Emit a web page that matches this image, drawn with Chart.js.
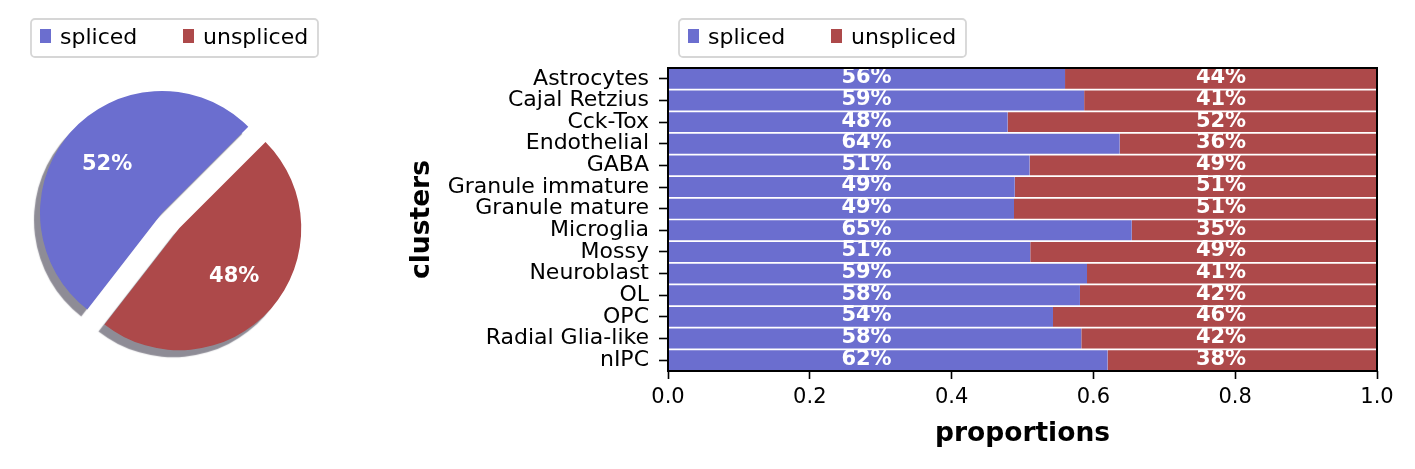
<!DOCTYPE html>
<html>
<head>
<meta charset="utf-8">
<script src="https://cdn.jsdelivr.net/npm/chart.js@4.4.1/dist/chart.umd.min.js"></script>
<style>
  body { margin: 0; background: #fff; }
  #wrap { position: relative; width: 1415px; height: 469px; }
  #pieBox { position: absolute; left: 0; top: 0; width: 400px; height: 469px; }
  #barBox { position: absolute; left: 400px; top: 0; width: 1015px; height: 469px; }
</style>
</head>
<body>
<div id="wrap">
  <div id="pieBox"><canvas id="pieChart"></canvas></div>
  <div id="barBox"><canvas id="barChart"></canvas></div>
</div>
<script>
var layers = ["spliced", "unspliced"];
var layerColors = ["#6b6ecf", "#ad494a"];
var pieValues = [52, 48];

var clusters = ["Astrocytes", "Cajal Retzius", "Cck-Tox", "Endothelial", "GABA",
  "Granule immature", "Granule mature", "Microglia", "Mossy", "Neuroblast",
  "OL", "OPC", "Radial Glia-like", "nIPC"];
var splicedValues = [0.560, 0.587, 0.479, 0.637, 0.510, 0.489, 0.488, 0.654, 0.511, 0.591, 0.581, 0.543, 0.583, 0.620];
var unsplicedValues = [0.440, 0.413, 0.521, 0.363, 0.490, 0.511, 0.512, 0.346, 0.489, 0.409, 0.419, 0.457, 0.417, 0.380];
var xTicks = [0, 0.2, 0.4, 0.6, 0.8, 1.0];

Chart.defaults.font.family = '"DejaVu Sans", sans-serif';
Chart.defaults.color = '#000';

// framed legend like matplotlib's, drawn in the empty space above each plot
var boxLegend = {
  id: 'boxLegend',
  afterDraw: function (chart, args, opts) {
    var ctx = chart.ctx;
    ctx.save();
    ctx.beginPath();
    ctx.roundRect(opts.x, opts.y, 287, 38, 4);
    ctx.fillStyle = 'rgba(255,255,255,0.8)';
    ctx.fill();
    ctx.lineWidth = 1.8;
    ctx.strokeStyle = '#d6d6d6';
    ctx.stroke();
    ctx.font = '22px "DejaVu Sans"';
    ctx.textBaseline = 'alphabetic';
    ctx.textAlign = 'left';
    for (var i = 0; i < layers.length; i++) {
      var ix = opts.x + 9 + i * 143;
      ctx.fillStyle = layerColors[i];
      ctx.fillRect(ix, opts.y + 10, 11, 14);
      ctx.fillStyle = '#000';
      ctx.fillText(layers[i], ix + 20, opts.y + 25);
    }
    ctx.restore();
  }
};

// exploded wedge, drop shadow and percent labels for the pie
var explode = [0, 23];
var pieExtras = {
  id: 'pieExtras',
  afterDatasetsUpdate: function (chart) {
    var arcs = chart.getDatasetMeta(0).data;
    arcs.forEach(function (arc, i) {
      var mid = (arc.startAngle + arc.endAngle) / 2;
      arc.x += Math.cos(mid) * explode[i];
      arc.y += Math.sin(mid) * explode[i];
    });
  },
  beforeDatasetsDraw: function (chart) {
    var ctx = chart.ctx;
    ctx.save();
    ctx.shadowColor = 'rgba(30,25,45,0.5)';
    ctx.shadowOffsetX = -6;
    ctx.shadowOffsetY = 7;
    ctx.shadowBlur = 1;
  },
  afterDatasetsDraw: function (chart) {
    var ctx = chart.ctx;
    ctx.restore();
    var arcs = chart.getDatasetMeta(0).data;
    var total = pieValues.reduce(function (a, b) { return a + b; }, 0);
    ctx.save();
    ctx.font = 'bold 21px "DejaVu Sans"';
    ctx.fillStyle = '#fff';
    ctx.textAlign = 'center';
    ctx.textBaseline = 'middle';
    arcs.forEach(function (arc, i) {
      var mid = (arc.startAngle + arc.endAngle) / 2;
      var r = arc.outerRadius * 0.6;
      ctx.fillText(Math.round(pieValues[i] / total * 100) + '%',
        arc.x + Math.cos(mid) * r, arc.y + Math.sin(mid) * r);
    });
    ctx.restore();
  }
};

new Chart(document.getElementById('pieChart'), {
  type: 'pie',
  data: {
    labels: layers,
    datasets: [{ data: pieValues, backgroundColor: layerColors, borderWidth: 0, clip: false }]
  },
  options: {
    responsive: true,
    maintainAspectRatio: false,
    animation: false,
    events: [],
    rotation: 217.8,
    radius: 122,
    layout: { padding: { left: 0, right: 76, top: 60, bottom: 103 } },
    plugins: {
      legend: { display: false },
      tooltip: { enabled: false },
      boxLegend: { x: 31, y: 19 }
    }
  },
  plugins: [boxLegend, pieExtras]
});

// percent text on bars + closed frame around the plot
var barExtras = {
  id: 'barExtras',
  afterDatasetsDraw: function (chart) {
    var ctx = chart.ctx;
    var xs = chart.scales.x, ys = chart.scales.y;
    ctx.save();
    ctx.font = 'bold 21px "DejaVu Sans"';
    ctx.fillStyle = '#fff';
    ctx.textAlign = 'center';
    ctx.textBaseline = 'middle';
    for (var i = 0; i < clusters.length; i++) {
      var y = ys.getPixelForValue(i) - 1;
      ctx.fillText(Math.round(splicedValues[i] * 100) + '%', xs.getPixelForValue(0.28), y);
      ctx.fillText(Math.round(unsplicedValues[i] * 100) + '%', xs.getPixelForValue(0.78), y);
    }
    var a = chart.chartArea;
    ctx.lineWidth = 2;
    ctx.strokeStyle = '#000';
    ctx.strokeRect(a.left, a.top, a.right - a.left, a.bottom - a.top);
    ctx.restore();
  }
};

new Chart(document.getElementById('barChart'), {
  type: 'bar',
  data: {
    labels: clusters,
    datasets: [
      { label: layers[0], data: splicedValues, backgroundColor: layerColors[0] },
      { label: layers[1], data: unsplicedValues, backgroundColor: layerColors[1] }
    ]
  },
  options: {
    indexAxis: 'y',
    responsive: true,
    maintainAspectRatio: false,
    animation: false,
    events: [],
    layout: { padding: { left: 0, right: 38, top: 68, bottom: 0 } },
    datasets: {
      bar: {
        barPercentage: 1,
        categoryPercentage: 1,
        borderColor: '#fff',
        borderWidth: { top: 1.2, bottom: 1.2, left: 0, right: 0 },
        borderSkipped: false
      }
    },
    scales: {
      x: {
        stacked: true,
        min: 0,
        max: 1,
        afterBuildTicks: function (axis) {
          axis.ticks = xTicks.map(function (v) { return { value: v }; });
        },
        ticks: {
          font: { size: 21 },
          padding: 6,
          maxRotation: 0,
          callback: function (v) { return Number(v).toFixed(1); }
        },
        grid: { drawOnChartArea: false, drawTicks: true, tickLength: 8, tickWidth: 1.6, tickColor: '#000' },
        border: { display: false },
        title: {
          display: true,
          text: 'proportions',
          font: { size: 26.5, weight: 'bold' },
          padding: { top: 0, bottom: 19 }
        },
        afterFit: function (axis) { axis.height = 98; }
      },
      y: {
        stacked: true,
        ticks: { font: { size: 22, lineHeight: 1 }, padding: 10, autoSkip: false },
        grid: { drawOnChartArea: false, offset: false, drawTicks: true, tickLength: 9, tickWidth: 1.6, tickColor: '#000' },
        border: { display: false },
        title: {
          display: true,
          text: 'clusters',
          font: { size: 26.5, weight: 'bold' },
          padding: { top: 6, bottom: 0 }
        },
        afterFit: function (axis) { axis.width = 268; }
      }
    },
    plugins: {
      legend: { display: false },
      tooltip: { enabled: false },
      boxLegend: { x: 279, y: 19 }
    }
  },
  plugins: [boxLegend, barExtras]
});
</script>
</body>
</html>
